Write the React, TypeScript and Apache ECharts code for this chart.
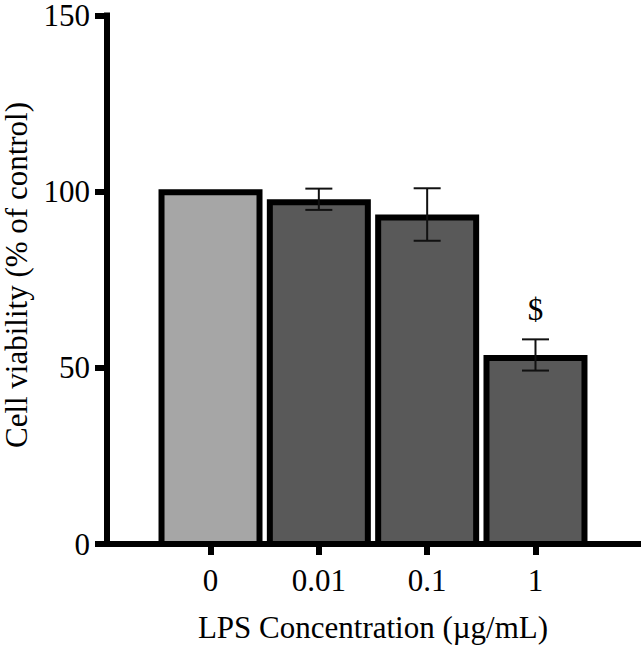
import React, { useEffect, useRef } from "react";
import * as echarts from "echarts";

const categories = ["0", "0.01", "0.1", "1"];
const meanValues = [100, 97.2, 92.9, 53.3];
const errorValues = [0, 3.0, 7.4, 4.4];
const significance = ["", "", "", "$"];
const yTicks = [0, 50, 100, 150];

const barColors = ["#a6a6a6", "#595959", "#595959", "#595959"];
const FONT = "Liberation Serif";

export default function App() {
  const ref = useRef<HTMLDivElement>(null);
  useEffect(() => {
    if (!ref.current) return;
    const chart = echarts.init(ref.current, null, { renderer: "svg" });
    const data = categories.map((c, i) => [i, meanValues[i], errorValues[i]]);
    const option: any = {
      animation: false,
      backgroundColor: "#ffffff",
      grid: [
        { left: 107, top: 12, width: 531, height: 532 },
        { left: 156.35, top: 12, width: 433.3, height: 532 },
      ],
      xAxis: [
        {
          gridIndex: 0,
          type: "value",
          min: 0,
          max: 1,
          axisLine: { show: true, onZero: false, lineStyle: { color: "#000", width: 6, cap: "square" } },
          axisTick: { show: false },
          axisLabel: { show: false },
          splitLine: { show: false },
        },
        {
          gridIndex: 1,
          type: "category",
          data: categories,
          boundaryGap: true,
          axisLine: { show: false },
          axisTick: { show: true, alignWithLabel: true, length: 11, lineStyle: { color: "#000", width: 6 } },
          axisLabel: { color: "#000", fontSize: 31, fontFamily: FONT, margin: 21 },
          splitLine: { show: false },
        },
      ],
      yAxis: [
        {
          gridIndex: 0,
          type: "value",
          min: yTicks[0],
          max: yTicks[yTicks.length - 1],
          interval: 50,
          axisLine: { show: true, lineStyle: { color: "#000", width: 6, cap: "square" } },
          axisTick: { show: true, length: 12, lineStyle: { color: "#000", width: 6 } },
          axisLabel: { color: "#000", fontSize: 31, lineHeight: 24, fontFamily: FONT, margin: 17 },
          splitLine: { show: false },
        },
        {
          gridIndex: 1,
          type: "value",
          min: yTicks[0],
          max: yTicks[yTicks.length - 1],
          interval: 50,
          show: false,
          splitLine: { show: false },
        },
      ],
      series: [
        {
          type: "custom",
          xAxisIndex: 1,
          yAxisIndex: 1,
          data,
          renderItem: (params: any, api: any) => {
            const idx = api.value(0);
            const val = api.value(1);
            const err = api.value(2);
            const top = api.coord([idx, val]);
            const base = api.coord([idx, 0]);
            const band = api.size([1, 0])[0];
            const bw = band * 0.96;
            const bw2 = 6;
            const children: any[] = [
              {
                type: "rect",
                shape: {
                  x: top[0] - bw / 2 + bw2 / 2,
                  y: top[1] + bw2 / 2,
                  width: bw - bw2,
                  height: base[1] - top[1] - bw2 / 2,
                },
                style: { fill: barColors[params.dataIndex], stroke: "#000", lineWidth: bw2 },
              },
            ];
            if (err > 0) {
              const hi = api.coord([idx, val + err]);
              const lo = api.coord([idx, val - err]);
              const cap = 13.5;
              const es = { stroke: "#111", lineWidth: 2 };
              children.push(
                { type: "line", shape: { x1: hi[0], y1: hi[1], x2: lo[0], y2: lo[1] }, style: es },
                { type: "line", shape: { x1: hi[0] - cap, y1: hi[1], x2: hi[0] + cap, y2: hi[1] }, style: es },
                { type: "line", shape: { x1: lo[0] - cap, y1: lo[1], x2: lo[0] + cap, y2: lo[1] }, style: es }
              );
            }
            const sig = significance[params.dataIndex];
            if (sig) {
              const hi = api.coord([idx, val + err]);
              children.push({
                type: "text",
                x: hi[0],
                y: hi[1] - 30,
                style: {
                  text: sig,
                  fill: "#000",
                  fontSize: 31,
                  fontFamily: FONT,
                  align: "center",
                  verticalAlign: "middle",
                },
              });
            }
            return { type: "group", children };
          },
        },
      ],
      graphic: [
        {
          type: "text",
          x: 16,
          y: 275,
          rotation: Math.PI / 2,
          style: {
            text: "Cell viability (% of control)",
            fill: "#000",
            fontSize: 31,
            fontFamily: FONT,
            align: "center",
            verticalAlign: "middle",
          },
        },
        {
          type: "text",
          x: 373,
          y: 627,
          style: {
            text: "LPS Concentration (µg/mL)",
            fill: "#000",
            fontSize: 31,
            fontFamily: FONT,
            align: "center",
            verticalAlign: "middle",
          },
        },
      ],
    };
    chart.setOption(option);
    return () => chart.dispose();
  }, []);
  return (
    <div
      ref={ref}
      style={{ position: "fixed", left: 0, top: 0, width: 644, height: 647, background: "#fff" }}
    />
  );
}
